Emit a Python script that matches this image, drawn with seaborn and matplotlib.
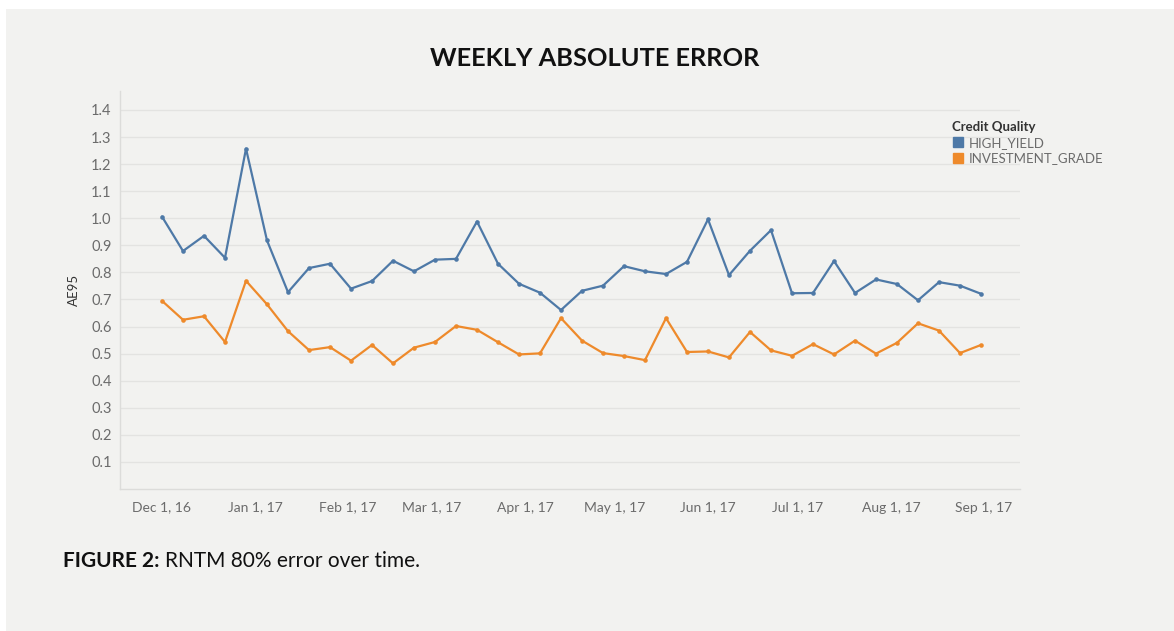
import matplotlib
matplotlib.use("Agg")
import matplotlib.pyplot as plt
import matplotlib.dates as mdates
from matplotlib.lines import Line2D
import seaborn as sns
import pandas as pd

# weekly values, starting Dec 1, 2016
start_date = "2016-12-01"
n_weeks = 40

high_yield = [1.006, 0.879, 0.935, 0.854, 1.257, 0.918, 0.727, 0.816, 0.832, 0.740,
              0.768, 0.843, 0.804, 0.847, 0.850, 0.988, 0.832, 0.758, 0.725, 0.661,
              0.732, 0.751, 0.823, 0.804, 0.794, 0.839, 0.996, 0.790, 0.880, 0.956,
              0.723, 0.724, 0.842, 0.724, 0.774, 0.757, 0.697, 0.764, 0.751, 0.721]

investment_grade = [0.695, 0.625, 0.638, 0.543, 0.769, 0.682, 0.583, 0.513, 0.524, 0.474,
                    0.532, 0.464, 0.522, 0.543, 0.602, 0.588, 0.542, 0.497, 0.501, 0.631,
                    0.548, 0.502, 0.491, 0.476, 0.631, 0.506, 0.508, 0.486, 0.580, 0.512,
                    0.492, 0.535, 0.497, 0.548, 0.500, 0.540, 0.612, 0.585, 0.502, 0.532]

categories = ["HIGH_YIELD", "INVESTMENT_GRADE"]
colors = ["#4e79a7", "#ee8a2b"]
y_ticks = [0.1, 0.2, 0.3, 0.4, 0.5, 0.6, 0.7, 0.8, 0.9, 1.0, 1.1, 1.2, 1.3, 1.4]

weeks = pd.date_range(start_date, periods=n_weeks, freq="7D")
df = pd.concat([
    pd.DataFrame({"week": weeks, "AE95": high_yield, "Credit Quality": categories[0]}),
    pd.DataFrame({"week": weeks, "AE95": investment_grade, "Credit Quality": categories[1]}),
])

bg = "#f2f2f0"
sns.set_style("white")
plt.rcParams["font.family"] = ["Lato", "DejaVu Sans"]

fig = plt.figure(figsize=(11.74, 6.31), dpi=100, facecolor="white")
# grey panel with a thin white margin at top/left
fig.patches.append(plt.Rectangle((6 / 1174, 0), 1, 1 - 9 / 631, transform=fig.transFigure,
                                 facecolor=bg, edgecolor="none", zorder=-10))

ax = fig.add_axes([120 / 1174, (631 - 489) / 631, 900 / 1174, 398 / 631])
ax.set_facecolor(bg)

sns.lineplot(data=df, x="week", y="AE95", hue="Credit Quality", palette=colors,
             hue_order=categories, marker="o", markersize=3.3, markeredgewidth=0,
             linewidth=1.6, legend=False, ax=ax)

ax.set_ylim(0, 1.47)
ax.set_yticks(y_ticks)
ax.set_yticklabels([f"{v:.1f}" for v in y_ticks])
ax.set_xlim(pd.Timestamp("2016-11-17"), pd.Timestamp("2017-09-13"))
ax.xaxis.set_major_locator(mdates.MonthLocator())
ax.xaxis.set_major_formatter(mdates.DateFormatter("%b %-d, %y"))

ax.grid(axis="y", color="#e3e3e1", linewidth=1)
ax.set_axisbelow(True)
for side in ["top", "right"]:
    ax.spines[side].set_visible(False)
for side in ["left", "bottom"]:
    ax.spines[side].set_color("#dcdcda")
    ax.spines[side].set_linewidth(1)
ax.tick_params(axis="x", colors="#dcdcda", labelcolor="#6b6b6b", labelsize=10,
               length=3, pad=6)
ax.tick_params(axis="y", length=0, labelcolor="#6b6b6b", labelsize=10.5, pad=6)

ax.set_xlabel("")
ax.set_ylabel("AE95", fontsize=9.5, color="#333333", labelpad=8)

fig.text(595 / 1174, 1 - 58 / 631, "WEEKLY ABSOLUTE ERROR", ha="center", va="center",
         fontsize=18.3, fontweight="bold", color="#111111")

# caption: bold label followed by regular text
cap = fig.text(63 / 1174, 1 - 561 / 631, "FIGURE 2:", ha="left", va="center",
               fontsize=15, fontweight="bold", color="#111111")
fig.text(0, 0, "").set_visible(False)
plt.annotate("RNTM 80% error over time.", xy=(1, 0.5), xycoords=cap,
             xytext=(4, 0), textcoords="offset points", ha="left", va="center",
             fontsize=15, color="#111111", annotation_clip=False)

handles = [Line2D([], [], marker="s", linestyle="", markersize=7, color=c) for c in colors]
leg = fig.legend(handles, categories, title="Credit Quality", loc="upper left",
                 bbox_to_anchor=(945 / 1174, 1 - 114 / 631), frameon=False,
                 fontsize=9.5, title_fontsize=9.5, handletextpad=0.3,
                 labelspacing=0.3, borderpad=0, handlelength=1.0)
leg.get_title().set_fontweight("bold")
leg.get_title().set_color("#333333")
leg._legend_box.align = "left"
for t in leg.get_texts():
    t.set_color("#6b6b6b")

fig.savefig("out.png", dpi=100, facecolor=fig.get_facecolor())
